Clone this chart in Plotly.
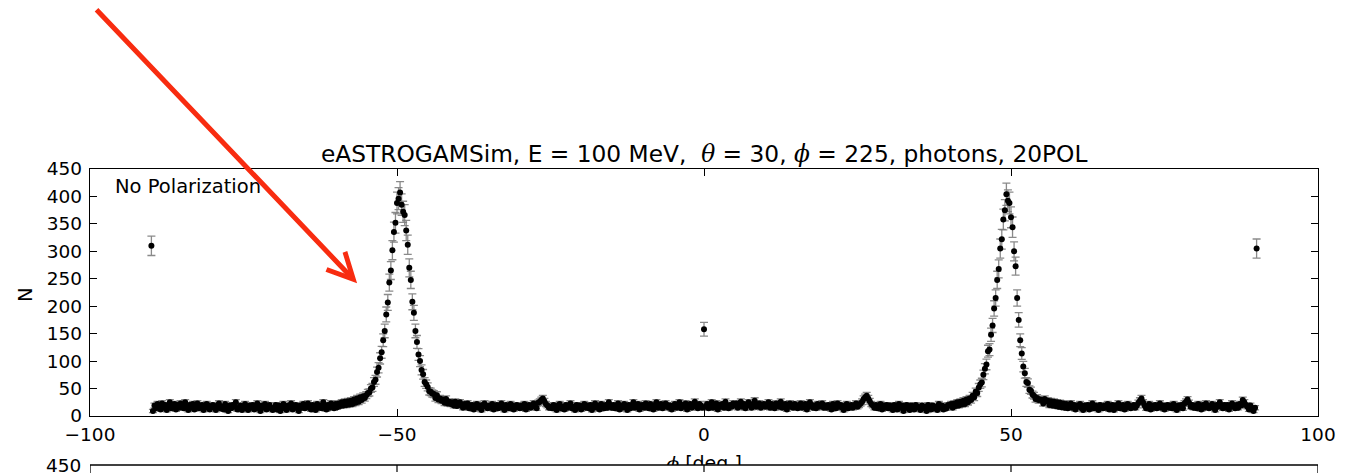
import numpy as np
import plotly.graph_objects as go

# ---------------- data ----------------
phi_start = -90.0
bin_width = 0.25
counts = [
    310, 9, 19, 14, 22, 17, 12, 23, 15, 20, 11, 19, 25, 14, 17, 22, 12, 20, 15, 23,    # -90
    19, 14, 25, 17, 11, 20, 15, 22, 12, 19, 23, 14, 17, 20, 11, 15, 22, 19, 12, 17,    # -85
    20, 15, 11, 19, 23, 14, 17, 12, 22, 15, 9, 19, 14, 20, 17, 25, 12, 15, 19, 11,     # -80
    17, 22, 14, 11, 19, 15, 20, 12, 17, 23, 14, 9, 19, 15, 22, 12, 17, 20, 14, 11,     # -75
    15, 20, 12, 19, 9, 17, 22, 14, 11, 19, 15, 23, 12, 17, 20, 14, 9, 19, 15, 22,      # -70
    14, 19, 23, 15, 12, 20, 17, 11, 22, 15, 19, 14, 25, 17, 12, 20, 15, 23, 19, 14,    # -65
    22, 16, 23, 18, 25, 19, 26, 20, 27, 21, 28, 22, 30, 24, 32, 26, 34, 29, 36, 33,    # -60
    38, 42, 43, 50, 52, 62, 66, 80, 88, 105, 116, 138, 155, 185, 207, 243, 265, 302, 335, 352,  # -55
    388, 396, 407, 385, 372, 366, 338, 312, 270, 248, 208, 188, 155, 135, 112, 100, 84, 76, 62, 58,  # -50
    53, 45, 44, 41, 40, 33, 38, 30, 32, 28, 30, 24, 31, 23, 26, 22, 25, 19, 26, 18,    # -45
    20, 25, 19, 15, 22, 17, 23, 14, 19, 20, 12, 17, 22, 15, 19, 11, 20, 23, 17, 14,    # -40
    19, 15, 22, 12, 17, 20, 14, 19, 23, 15, 11, 20, 17, 14, 22, 19, 12, 15, 20, 17,    # -35
    14, 19, 15, 22, 12, 17, 20, 15, 19, 23, 17, 14, 24, 26, 29, 32, 27, 22, 19, 15,    # -30
    17, 14, 20, 15, 11, 19, 22, 14, 17, 12, 20, 15, 19, 23, 14, 17, 11, 20, 15, 19,    # -25
    12, 17, 22, 15, 19, 14, 20, 11, 17, 23, 15, 19, 12, 22, 17, 14, 20, 15, 25, 19,    # -20
    15, 20, 14, 17, 23, 12, 19, 15, 22, 17, 11, 20, 14, 19, 25, 15, 17, 22, 12, 19,    # -15
    20, 15, 23, 19, 14, 22, 17, 12, 20, 25, 15, 19, 22, 14, 17, 23, 20, 15, 19, 12,    # -10
    17, 22, 15, 19, 25, 14, 20, 17, 23, 12, 19, 22, 15, 20, 26, 17, 14, 22, 19, 15,    # -5
    158, 17, 22, 14, 20, 25, 15, 19, 23, 12, 20, 17, 22, 15, 26, 19, 14, 20, 17, 23,   # 0
    19, 23, 15, 20, 26, 17, 22, 14, 19, 25, 20, 15, 22, 28, 17, 20, 23, 15, 19, 22,    # 5
    17, 20, 25, 15, 22, 19, 14, 23, 20, 17, 26, 15, 19, 22, 12, 20, 23, 17, 15, 22,    # 10
    19, 14, 20, 23, 15, 19, 22, 12, 17, 25, 20, 15, 19, 14, 22, 17, 20, 23, 15, 19,    # 15
    15, 20, 17, 12, 22, 19, 14, 23, 17, 20, 15, 11, 19, 22, 14, 17, 20, 15, 19, 23,    # 20
    17, 20, 23, 26, 31, 34, 37, 32, 27, 22, 19, 15, 20, 14, 17, 22, 12, 19, 15, 20,    # 25
    14, 19, 15, 11, 20, 17, 12, 22, 15, 19, 9, 17, 20, 14, 11, 19, 15, 12, 20, 17,     # 30
    15, 11, 19, 14, 17, 9, 20, 15, 12, 19, 14, 17, 11, 22, 15, 19, 12, 17, 14, 20,     # 35
    19, 22, 15, 23, 18, 25, 19, 26, 21, 28, 22, 30, 25, 32, 29, 37, 34, 44, 42, 52,    # 40
    58, 61, 75, 86, 94, 118, 121, 148, 165, 196, 215, 248, 268, 305, 322, 358, 375, 404, 392, 388,  # 45
    362, 344, 300, 273, 215, 175, 138, 114, 90, 78, 62, 60, 48, 46, 39, 37, 31, 33, 29, 30,  # 50
    29, 23, 31, 27, 28, 20, 27, 19, 26, 18, 25, 17, 24, 16, 23, 15, 22, 14, 20, 23,    # 55
    15, 20, 12, 19, 17, 22, 14, 11, 19, 15, 20, 12, 17, 23, 14, 19, 15, 11, 20, 17,    # 60
    14, 19, 15, 22, 12, 17, 20, 11, 19, 15, 23, 14, 17, 20, 12, 15, 22, 19, 14, 17,    # 65
    20, 15, 19, 24, 28, 32, 25, 19, 14, 17, 22, 12, 19, 15, 20, 14, 17, 23, 15, 19,    # 70
    12, 17, 20, 15, 19, 14, 22, 17, 11, 19, 15, 20, 14, 23, 26, 30, 24, 17, 20, 15,    # 75
    19, 14, 22, 17, 12, 20, 15, 23, 19, 14, 17, 22, 15, 11, 20, 17, 25, 19, 14, 20,    # 80
    15, 20, 12, 19, 23, 17, 14, 20, 15, 22, 19, 29, 25, 20, 17, 12, 19, 14, 9, 15,     # 85
    305,                                                                               # 90
]
phi = [phi_start + bin_width * i for i in range(len(counts))]
errors = np.sqrt(np.array(counts, dtype=float))

x_ticks = [-100, -50, 0, 50, 100]
y_ticks = [0, 50, 100, 150, 200, 250, 300, 350, 400, 450]
x_range = [-100, 100]
y_range = [0, 450]

title_text = ("eASTROGAMSim, E = 100 MeV,  "
              "<span style=\"font-family:'DejaVu Serif'\"><i>θ</i></span> = 30, "
              "<span style=\"font-family:'DejaVu Serif'\"><i>ϕ</i></span> = 225, photons, 20POL")
label_text = "No Polarization"
xlabel_text = "<span style=\"font-family:'DejaVu Serif'\"><i>ϕ</i></span> [deg.]"
ylabel_text = "N"

# ---------------- layout geometry ----------------
W, H = 1351, 473
ML, MR, MT, MB = 90, 33, 169, 0
PW, PH = W - ML - MR, H - MT - MB


def py(ypx):
    return (H - MB - ypx) / PH


def px(xpx):
    return (xpx - ML) / PW


FONT = "DejaVu Sans"
fig = go.Figure()

fig.add_trace(go.Scatter(
    x=phi, y=counts, mode="markers",
    marker=dict(color="black", size=6, line=dict(width=0)),
    error_y=dict(type="data", array=errors, color="rgba(125,125,125,0.9)",
                 thickness=1.3, width=4),
    showlegend=False, hoverinfo="skip",
))

# x-axis label, partially hidden under the next panel (clipped by a helper subplot)
fig.add_trace(go.Scatter(
    x=[0], y=[0.38], mode="text", text=[xlabel_text], textposition="bottom center",
    textfont=dict(family=FONT, size=19, color="black"),
    xaxis="x2", yaxis="y2", cliponaxis=True, showlegend=False, hoverinfo="skip",
))

axis_common = dict(
    ticks="inside", ticklen=7, tickwidth=1.2, tickcolor="black",
    showline=True, linecolor="black", linewidth=1.3, mirror="ticks",
    showgrid=False, zeroline=False, automargin=False,
    tickfont=dict(family=FONT, size=18.5, color="black"),
)

fig.update_layout(
    width=W, height=H,
    margin=dict(l=ML, r=MR, t=MT, b=MB, pad=0, autoexpand=False),
    paper_bgcolor="white", plot_bgcolor="white",
    xaxis=dict(domain=[0, 1], range=x_range, tickvals=x_ticks, anchor="y",
               ticklabelstandoff=2, **axis_common),
    yaxis=dict(domain=[py(416), 1], range=y_range, tickvals=y_ticks, anchor="x",
               ticklabelstandoff=3, **axis_common),
    xaxis2=dict(domain=[0, 1], range=[-1, 1], visible=False, anchor="y2"),
    yaxis2=dict(domain=[py(465), py(440)], range=[0, 1], visible=False, anchor="x2"),
)

# top of the next (cut-off) panel
shapes = [
    dict(type="line", xref="x", yref="paper", x0=-100, x1=100, y0=py(465), y1=py(465),
         line=dict(color="black", width=1.3)),
    dict(type="line", xref="x", yref="paper", x0=-100, x1=-100, y0=py(465), y1=py(480),
         line=dict(color="black", width=1.3)),
    dict(type="line", xref="x", yref="paper", x0=100, x1=100, y0=py(465), y1=py(480),
         line=dict(color="black", width=1.3)),
]
for t in x_ticks[1:-1]:
    shapes.append(dict(type="line", xref="x", yref="paper", x0=t, x1=t,
                       y0=py(465), y1=py(472), line=dict(color="black", width=1.2)))
fig.update_layout(shapes=shapes)

fig.add_annotation(text=title_text, x=0.5, y=py(153), xref="paper", yref="paper",
                   xanchor="center", yanchor="middle", showarrow=False,
                   font=dict(family=FONT, size=23.3, color="black"))
fig.add_annotation(text=label_text, x=px(113), y=py(186), xref="paper", yref="paper",
                   xanchor="left", yanchor="middle", showarrow=False,
                   font=dict(family=FONT, size=19.5, color="black"))
fig.add_annotation(text=ylabel_text, x=px(25), y=py(295), xref="paper", yref="paper",
                   xanchor="center", yanchor="middle", showarrow=False, textangle=-90,
                   font=dict(family=FONT, size=19.5, color="black"))
fig.add_annotation(text="450", x=px(83), y=py(465), xref="paper", yref="paper",
                   xanchor="right", yanchor="middle", showarrow=False,
                   font=dict(family=FONT, size=18.5, color="black"))

# red arrow pointing to the left peak
fig.add_annotation(text="", x=-56.5, y=242, xref="x", yref="y",
                   ax=-262, ay=-275, axref="pixel", ayref="pixel",
                   showarrow=True, arrowhead=5, arrowsize=1.0, arrowwidth=5,
                   arrowcolor="#f82c10", standoff=0)

fig.write_html(
    "out.html",
    config={"displayModeBar": False},
    post_script=("document.body.style.margin='0px';"
                 "document.body.style.overflow='hidden';"
                 "document.documentElement.style.overflow='hidden';"),
)
